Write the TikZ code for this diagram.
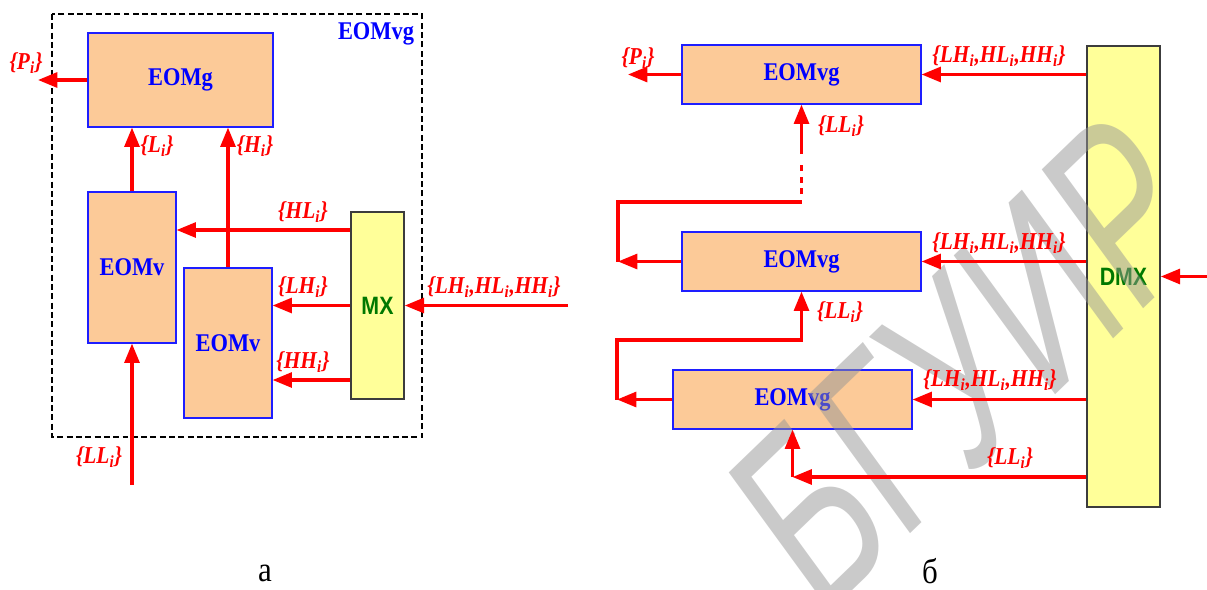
\documentclass[tikz,border=0pt]{standalone}
\usepackage{fontspec}
\setmainfont{Liberation Serif}[FakeStretch=0.88]
\newfontfamily\muxsans{Liberation Sans}[FakeStretch=0.85]
\newfontfamily\wmsans{Liberation Sans}
\usetikzlibrary{arrows.meta}

\definecolor{eomfill}{RGB}{252,202,152}
\definecolor{eomline}{RGB}{30,30,255}
\definecolor{eomtext}{RGB}{0,0,255}
\definecolor{muxfill}{RGB}{255,255,153}
\definecolor{muxline}{RGB}{60,60,60}
\definecolor{muxtext}{RGB}{0,120,0}
\definecolor{sigred}{RGB}{255,0,0}
\definecolor{wmgray}{RGB}{150,150,150}

\newcommand\eomfont{\fontsize{14.5}{16}\selectfont\bfseries}
\newcommand\labfont{\fontsize{13.8}{15}\selectfont\bfseries\itshape}
\newcommand\muxfont{\muxsans\fontsize{14.3}{16}\selectfont\bfseries}
\newcommand\sbi{\textsubscript{i}}

\begin{document}
\begin{tikzpicture}[x=0.02cm, y=-0.02cm, >={Triangle[length=11pt,width=8.5pt]},
  eom/.style={draw=eomline, fill=eomfill, line width=0.7pt, font=\eomfont, text=eomtext},
  mux/.style={draw=muxline, fill=muxfill, line width=0.9pt, font=\muxfont, text=muxtext},
  frame/.style={draw, dash pattern=on 3.4pt off 1.9pt, line width=1.6pt},
  sig/.style={draw=sigred, line width=1.8pt},
  lab/.style={font=\labfont, text=sigred, inner sep=0pt},
  wmark/.style={font=\wmsans\fontsize{150}{150}\selectfont, text=wmgray, text opacity=0.5,
    xscale=0.87, rotate=40, xscale=0.7}]
\useasboundingbox (0,0) rectangle (1207,589);

% (a) EOMvg built from EOMv and EOMg
\draw[frame] (52,14) rectangle (422,437);
\node[font=\eomfont, text=eomtext] (lvg) at (376,34) {EOMvg};
\node[eom, minimum width=3.7cm, minimum height=1.88cm] (eomg) at (180.5,80) {EOMg};
\node[eom, minimum width=1.76cm, minimum height=3.02cm] (eomvL) at (132,267.5) {EOMv};
\node[eom, minimum width=1.76cm, minimum height=3.0cm] (eomvR) at (228,343) {EOMv};
\node[mux, minimum width=1.06cm, minimum height=3.74cm] (mx) at (377.5,305.5) {MX};

% (b) chain of EOMvg and DMX
\node[eom, minimum width=4.78cm, minimum height=1.18cm] (vg1) at (801.5,74.5) {EOMvg};
\node[eom, minimum width=4.78cm, minimum height=1.18cm] (vg2) at (801.5,261.5) {EOMvg};
\node[eom, minimum width=4.78cm, minimum height=1.18cm] (vg3) at (792.5,399.5) {EOMvg};
\node[mux, minimum width=1.46cm, minimum height=9.22cm] (dmx) at (1123.5,276.5) {DMX};

\node[wmark] (wm) at (968,362) {БГУИР};

% signals of (a)
\coordinate (pout) at (38,80);
\coordinate (hlrow) at (0,230);
\coordinate (hhrow) at (0,380);
\coordinate (inA) at (568,305.5);
\coordinate (llA) at (132,485);
\draw[sig,->] (eomg.west) -- (pout);
\draw[sig,->] (eomvL.north) -- (eomg.south -| eomvL.north);
\draw[sig,->] (eomvR.north) -- (eomg.south -| eomvR.north);
\draw[sig,->] (mx.west |- hlrow) -- (eomvL.east |- hlrow);
\draw[sig,->] (mx.west) -- (eomvR.east |- mx.west);
\draw[sig,->] (mx.west |- hhrow) -- (eomvR.east |- hhrow);
\draw[sig,->] (inA) -- (mx.east);
\draw[sig,->] (llA) -- (eomvL.south);

\node[lab] (lP) at (26,63) {\{P\sbi\}};
\node[lab] (lL) at (157,146) {\{L\sbi\}};
\node[lab] (lH) at (255,146) {\{H\sbi\}};
\node[lab] (lHL) at (303,212) {\{HL\sbi\}};
\node[lab] (lLH) at (303,287) {\{LH\sbi\}};
\node[lab] (lHH) at (303,362) {\{HH\sbi\}};
\node[lab] (lin) at (494,287) {\{LH\sbi,HL\sbi,HH\sbi\}};
\node[lab] (lLL) at (99,457) {\{LL\sbi\}};

% signals of (b)
\coordinate (pout2) at (628,74.5);
\coordinate (inB) at (1207,276.5);
\coordinate (t1) at (618,261.5);
\coordinate (t2) at (618,202);
\coordinate (t3) at (801.5,202);
\coordinate (d1) at (801.5,194);
\coordinate (d2) at (801.5,165);
\coordinate (t5) at (801.5,154);
\coordinate (u1) at (617,399.5);
\coordinate (u2) at (617,340);
\coordinate (u3) at (801.5,340);
\coordinate (w1) at (792.5,477);
\draw[sig,->] (vg1.west) -- (pout2);
\draw[sig,->] (dmx.west |- vg1.east) -- (vg1.east);
\draw[sig,->] (dmx.west |- vg2.east) -- (vg2.east);
\draw[sig,->] (dmx.west |- vg3.east) -- (vg3.east);
\draw[sig,->] (inB) -- (dmx.east);
\draw[sig,->] (vg2.west) -- (t1);
\draw[sig] (t1) -- (t2) -- (t3);
\draw[sig, dash pattern=on 3.4pt off 3.1pt] (d1) -- (d2);
\draw[sig,->] (t5) -- (vg1.south);
\draw[sig,->] (vg3.west) -- (u1);
\draw[sig,->] (u1) -- (u2) -- (u3) -- (vg2.south);
\draw[sig,->] (dmx.west |- w1) -- (w1);
\draw[sig,->] (w1) -- (vg3.south);

\node[lab] (lP2) at (638,58) {\{P\sbi\}};
\node[lab] (lin1) at (999,56) {\{LH\sbi,HL\sbi,HH\sbi\}};
\node[lab] (lLL1) at (841,126) {\{LL\sbi\}};
\node[lab] (lin2) at (999,243) {\{LH\sbi,HL\sbi,HH\sbi\}};
\node[lab] (lLL2) at (840,312) {\{LL\sbi\}};
\node[lab] (lin3) at (990,380) {\{LH\sbi,HL\sbi,HH\sbi\}};
\node[lab] (lLL3) at (1010,458) {\{LL\sbi\}};

\node[font=\fontsize{20}{22}\selectfont] (capa) at (265,573) {а};
\node[font=\fontsize{20}{22}\selectfont] (capb) at (930,571) {б};
\end{tikzpicture}
\end{document}
